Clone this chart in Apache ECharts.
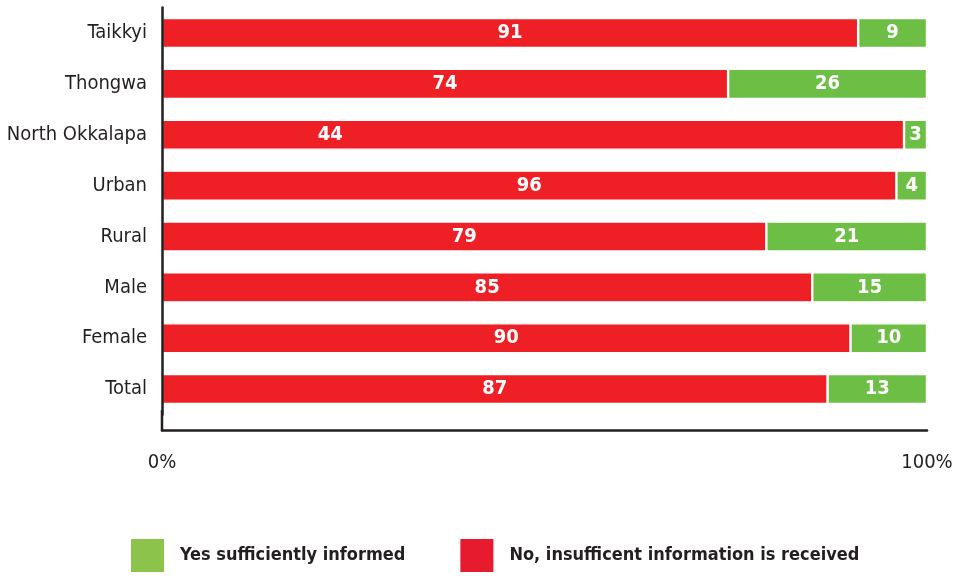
<!DOCTYPE html>
<html>
<head>
<meta charset="utf-8">
<script src="https://cdn.jsdelivr.net/npm/echarts@6/dist/echarts.min.js"></script>
<style>
  html, body { margin: 0; padding: 0; background: #fff; }
  #chart { width: 963px; height: 580px; }
</style>
</head>
<body>
<div id="chart"></div>
<script>
const categories = ['Taikkyi', 'Thongwa', 'North Okkalapa', 'Urban', 'Rural', 'Male', 'Female', 'Total'];
// bar lengths as drawn (percent of the row)
const noBar = [91, 74, 97, 96, 79, 85, 90, 87];
const yesBar = [9, 26, 3, 4, 21, 15, 10, 13];
// numbers printed on the red bars
const noLabels = [91, 74, 44, 96, 79, 85, 90, 87];
const xTicks = [0, 100];

const FONT = '"DejaVu Sans", sans-serif';
const STRETCH = 'condensed';
const INK = '#231f20';
const RED = '#ee1f25';
const GREEN = '#6dbe45';

const chart = echarts.init(document.getElementById('chart'));

const barLabel = {
    show: true,
    position: 'inside',
    color: '#fff',
    fontFamily: FONT,
    fontStyle: STRETCH,
    fontWeight: 'bold',
    fontSize: 20
};

const option = {
    animation: false,
    grid: { left: 162, right: 36, top: 7.6, bottom: 165.5, outerBoundsMode: 'none', containLabel: false },
    xAxis: {
        type: 'value',
        min: xTicks[0],
        max: xTicks[1],
        interval: 100,
        offset: 15.5,
        axisLine: { show: true, lineStyle: { color: INK, width: 2.5 } },
        axisTick: { show: false },
        splitLine: { show: false },
        axisLabel: {
            formatter: '{value}%',
            margin: 23,
            color: INK,
            fontFamily: FONT,
            fontStyle: STRETCH,
            fontSize: 20
        }
    },
    yAxis: {
        type: 'category',
        inverse: true,
        data: categories,
        z: 5,
        axisLine: { show: true, lineStyle: { color: INK, width: 2.5 } },
        axisTick: { show: false },
        axisLabel: {
            margin: 15,
            color: INK,
            fontFamily: FONT,
            fontStyle: STRETCH,
            fontSize: 20
        }
    },
    legend: {
        left: 126,
        top: 534,
        width: 830,
        itemWidth: 33,
        itemHeight: 33,
        itemGap: 55,
        icon: 'rect',
        textStyle: {
            color: INK,
            fontFamily: FONT,
            fontStyle: STRETCH,
            fontWeight: 'bold',
            fontSize: 18,
            padding: [5, 0, 0, 11]
        },
        data: [
            { name: 'Yes sufficiently informed', itemStyle: { color: '#8cc44b', borderWidth: 0 } },
            { name: 'No, insufficent information is received', itemStyle: { color: '#e61c2e', borderWidth: 0 } }
        ]
    },
    graphic: [{
        type: 'line',
        shape: { x1: 162, y1: 410, x2: 162, y2: 431.25 },
        style: { stroke: INK, lineWidth: 2.5 },
        silent: true,
        z: 10
    }],
    series: [
        {
            name: 'No, insufficent information is received',
            type: 'bar',
            stack: 'total',
            barWidth: 30,
            data: noBar,
            itemStyle: { color: RED, borderColor: '#fff', borderWidth: 1.2 }
        },
        {
            name: 'Yes sufficiently informed',
            type: 'bar',
            stack: 'total',
            barWidth: 30,
            data: yesBar,
            itemStyle: { color: GREEN, borderColor: '#fff', borderWidth: 1.2 },
            label: barLabel
        },
        {
            name: 'noLabels',
            type: 'bar',
            barWidth: 30,
            barGap: '-100%',
            silent: true,
            data: noLabels,
            itemStyle: { color: 'rgba(0,0,0,0)' },
            label: barLabel
        }
    ]
};

chart.setOption(option);
</script>
</body>
</html>
